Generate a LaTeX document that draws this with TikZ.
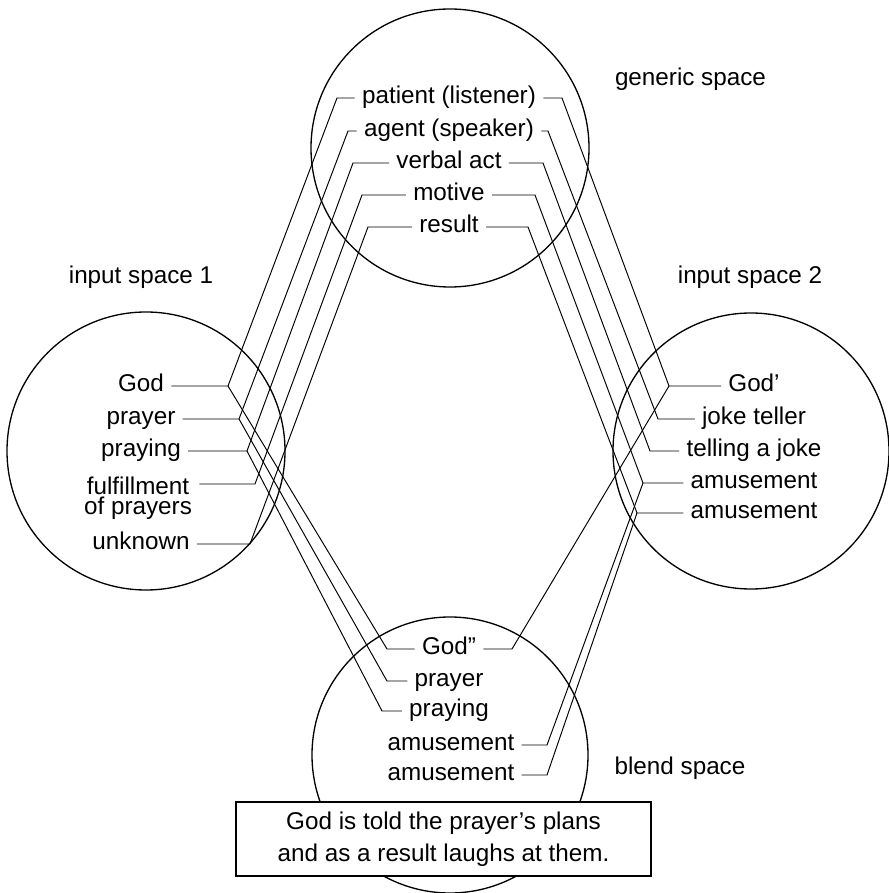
\documentclass[tikz,border=0pt]{standalone}
\usepackage{fontspec}
\setmainfont{Liberation Sans}

\begin{document}
\begin{tikzpicture}[
  spc/.style={minimum size=#1,draw,circle,inner sep=0pt,line width=0.75pt},
  lbl/.style={inner xsep=0.14cm,inner ysep=0pt,font=\fontsize{13.8}{16.5}\selectfont},
  row/.style={lbl,text height=1.4ex,text depth=0.25ex},
  con/.style={line width=0.55pt}
]
\useasboundingbox (0,0) rectangle (17.78,17.86);
\draw (9.00,14.90) node[spc=55.6mm](generic) {};
\draw (2.92,8.84) node[spc=55.6mm](input1) {};
\draw (15.02,8.84) node[spc=55.2mm](input2) {};
\draw (9.00,2.76) node[spc=55.2mm](blend) {};

\node[row] (gentitle) at (13.81,16.26) {generic space};
\node[row] (in1title) at (2.82,12.30) {input space 1};
\node[row] (in2title) at (15.00,12.30) {input space 2};
\node[row] (bltitle) at (13.60,2.48) {blend space};

\node[row] (gpat) at (8.98,15.90) {patient (listener)};
\node[row] (gagt) at (8.98,15.24) {agent (speaker)};
\node[row] (gact) at (8.98,14.60) {verbal act};
\node[row] (gmot) at (8.98,13.96) {motive};
\node[row] (gres) at (8.98,13.32) {result};

\node[row] (i1god) at (2.82,10.14) {God};
\node[row] (i1pra) at (2.82,9.48) {prayer};
\node[row] (i1pry) at (2.82,8.84) {praying};
\node[lbl,align=center,anchor=north,font=\fontsize{13.8}{11.2}\selectfont] (i1ful) at (2.76,8.32) {fulfillment\\of prayers};
\node[row] (i1unk) at (2.82,6.98) {unknown};

\node[row] (i2god) at (15.08,10.14) {God’};
\node[row] (i2jok) at (15.08,9.48) {joke teller};
\node[row] (i2tel) at (15.08,8.84) {telling a joke};
\node[row] (i2am1) at (15.08,8.20) {amusement};
\node[row] (i2am2) at (15.08,7.60) {amusement};

\node[row] (blgod) at (8.98,4.88) {God”};
\node[row] (blpra) at (8.98,4.24) {prayer};
\node[row] (blpry) at (8.98,3.64) {praying};
\node[row] (blam1) at (9.02,2.96) {amusement};
\node[row] (blam2) at (9.02,2.36) {amusement};

\coordinate (gpatL) at (6.74,15.90);
\coordinate (gagtL) at (6.96,15.24);
\coordinate (gactL) at (7.06,14.60);
\coordinate (gmotL) at (7.24,13.96);
\coordinate (gresL) at (7.36,13.32);
\coordinate (gpatR) at (11.24,15.90);
\coordinate (gagtR) at (10.96,15.24);
\coordinate (gactR) at (10.86,14.60);
\coordinate (gmotR) at (10.70,13.96);
\coordinate (gresR) at (10.56,13.32);
\coordinate (i1godR) at (4.56,10.14);
\coordinate (i1praR) at (4.78,9.48);
\coordinate (i1pryR) at (4.94,8.84);
\coordinate (i1fulR) at (5.10,8.18);
\coordinate (i1unkR) at (5.00,6.98);
\coordinate (i2godL) at (13.38,10.14);
\coordinate (i2jokL) at (13.16,9.48);
\coordinate (i2telL) at (13.00,8.84);
\coordinate (i2am1L) at (12.86,8.20);
\coordinate (i2am2L) at (12.74,7.60);
\coordinate (blgodL) at (7.74,4.88);
\coordinate (blpraL) at (7.74,4.24);
\coordinate (blpryL) at (7.64,3.64);
\coordinate (blgodR) at (10.24,4.88);
\coordinate (blam1R) at (10.94,2.96);
\coordinate (blam2R) at (10.94,2.36);

\draw[con] (gpat.west) -- (gpatL) -- (i1godR) -- (i1god.east);
\draw[con] (gagt.west) -- (gagtL) -- (i1praR) -- (i1pra.east);
\draw[con] (gact.west) -- (gactL) -- (i1pryR) -- (i1pry.east);
\draw[con] (gmot.west) -- (gmotL) -- (i1fulR) -- (i1ful.east |- i1fulR);
\draw[con] (gres.west) -- (gresL) -- (i1unkR) -- (i1unk.east);
\draw[con] (gpat.east) -- (gpatR) -- (i2godL) -- (i2god.west);
\draw[con] (gagt.east) -- (gagtR) -- (i2jokL) -- (i2jok.west);
\draw[con] (gact.east) -- (gactR) -- (i2telL) -- (i2tel.west);
\draw[con] (gmot.east) -- (gmotR) -- (i2am1L) -- (i2am1.west);
\draw[con] (gres.east) -- (gresR) -- (i2am2L) -- (i2am2.west);
\draw[con] (i1godR) -- (blgodL) -- (blgod.west);
\draw[con] (i1praR) -- (blpraL) -- (blpra.west);
\draw[con] (i1pryR) -- (blpryL) -- (blpry.west);
\draw[con] (i2godL) -- (blgodR) -- (blgod.east);
\draw[con] (i2am1L) -- (blam1R) -- (blam1.east);
\draw[con] (i2am2L) -- (blam2R) -- (blam2.east);

\node[draw,fill=white,line width=1.1pt,minimum width=8.30cm,minimum height=1.48cm,align=center,font=\fontsize{13.8}{18.1}\selectfont] (summary) at (8.87,1.08) {God is told the prayer’s plans\\and as a result laughs at them.};
\end{tikzpicture}
\end{document}
